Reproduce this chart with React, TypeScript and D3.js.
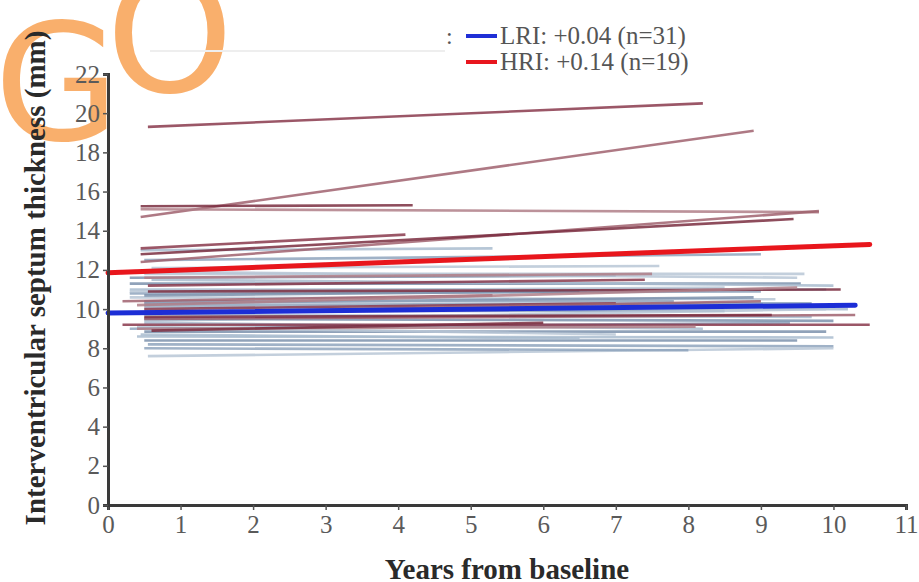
import React, { useEffect, useRef } from 'react';
import * as d3 from 'd3';

// individual patients: [startYear, startValue, endYear, endValue]
const hriLines = [
  [0.55, 19.3, 8.2, 20.5],
  [0.45, 14.7, 8.9, 19.1],
  [0.45, 15.25, 4.2, 15.3],
  [0.45, 15.1, 9.8, 14.95],
  [0.45, 13.1, 4.1, 13.8],
  [0.45, 12.4, 9.8, 15.0],
  [0.45, 12.8, 9.45, 14.6],
  [0.5, 11.6, 7.5, 11.8],
  [0.55, 11.2, 7.4, 11.5],
  [0.2, 10.4, 5.3, 10.7],
  [0.55, 10.9, 10.1, 11.0],
  [0.4, 10.2, 9.5, 11.1],
  [0.2, 9.2, 10.5, 9.2],
  [0.5, 9.5, 10.3, 9.7],
  [0.5, 9.6, 9.15, 9.7],
  [0.4, 9.0, 8.1, 9.1],
  [0.5, 10.0, 7.0, 10.3],
  [0.5, 9.8, 9.0, 10.4],
  [0.6, 8.9, 6.0, 9.3],
];

const lriLines = [
  [0.45, 13.0, 5.3, 13.1],
  [0.5, 12.5, 9.0, 12.8],
  [0.5, 11.8, 9.6, 11.8],
  [0.3, 11.3, 9.55, 11.3],
  [0.3, 11.0, 9.9, 11.0],
  [0.3, 10.8, 9.0, 10.9],
  [0.3, 10.6, 9.2, 10.5],
  [0.5, 10.3, 8.9, 10.6],
  [0.5, 10.1, 10.2, 10.0],
  [0.5, 9.9, 8.5, 9.9],
  [0.5, 9.4, 9.9, 10.0],
  [0.5, 8.85, 9.9, 8.85],
  [0.4, 8.6, 10.0, 8.55],
  [0.55, 8.2, 10.0, 8.1],
  [0.55, 7.6, 10.0, 8.0],
  [0.3, 11.6, 7.0, 11.7],
  [0.6, 11.5, 10.0, 11.2],
  [0.5, 10.4, 7.8, 10.4],
  [0.4, 9.1, 7.0, 8.7],
  [0.5, 8.4, 9.5, 8.4],
  [0.5, 9.3, 8.2, 9.0],
  [0.3, 9.0, 9.4, 9.3],
  [0.5, 11.9, 9.5, 11.6],
  [0.5, 10.7, 6.5, 10.9],
  [0.5, 9.7, 9.7, 9.6],
  [0.5, 8.0, 8.0, 7.9],
  [0.3, 10.9, 8.5, 11.1],
  [0.5, 9.5, 10.0, 9.4],
  [0.45, 8.7, 6.5, 8.5],
  [0.5, 10.2, 9.7, 10.3],
  [0.6, 12.1, 7.6, 12.2],
];

// group mean trajectories
const lriMean = [0, 9.8, 10.3, 10.2];
const hriMean = [0, 11.85, 10.5, 13.3];

const xTicks = [0, 1, 2, 3, 4, 5, 6, 7, 8, 9, 10, 11];
const yTicks = [0, 2, 4, 6, 8, 10, 12, 14, 16, 18, 20, 22];

const legendItems = [
  { label: 'LRI: +0.04 (n=31)', color: '#1f2fd6' },
  { label: 'HRI: +0.14 (n=19)', color: '#e8161e' },
];

const App = () => {
  const ref = useRef<SVGSVGElement>(null);

  useEffect(() => {
    const svg = d3.select(ref.current);
    svg.selectAll('*').remove();

    const margin = { top: 74, left: 108 };
    const width = 798;
    const height = 431;
    const serif = '"Liberation Serif", "Times New Roman", serif';

    const x = d3.scaleLinear().domain([0, 11]).range([0, width]);
    const y = d3.scaleLinear().domain([0, 22]).range([height, 0]);

    // soft edges like the scanned figure
    svg.append('defs').append('filter')
      .attr('id', 'soft')
      .append('feGaussianBlur')
      .attr('stdDeviation', 0.7);

    // orange watermark, sits under the chart ink
    const wm = svg.append('g').attr('fill', '#f8a65c').attr('fill-opacity', 0.9)
      .style('font-family', '"DejaVu Sans", sans-serif')
      .style('font-size', '162px');
    wm.append('text').attr('x', -6).attr('y', 140).text('G');
    wm.append('text').attr('x', 106).attr('y', 92).text('O');

    const g = svg.append('g').attr('transform', `translate(${margin.left},${margin.top})`);
    const lines = g.append('g').attr('filter', 'url(#soft)');

    // patient lines
    const lriColors = ['#a9bccf', '#8fa4bd', '#b8c7d6', '#7d92ad'];
    const hriColors = ['#8a3a4e', '#a0616f', '#7a2d40', '#b07f88'];

    lines.selectAll('line.lri')
      .data(lriLines)
      .enter()
      .append('line')
      .attr('class', 'lri')
      .attr('x1', d => x(d[0]))
      .attr('y1', d => y(d[1]))
      .attr('x2', d => x(d[2]))
      .attr('y2', d => y(d[3]))
      .attr('stroke', (d, i) => lriColors[i % lriColors.length])
      .attr('stroke-width', 2.6)
      .attr('stroke-opacity', 0.85);

    lines.selectAll('line.hri')
      .data(hriLines)
      .enter()
      .append('line')
      .attr('class', 'hri')
      .attr('x1', d => x(d[0]))
      .attr('y1', d => y(d[1]))
      .attr('x2', d => x(d[2]))
      .attr('y2', d => y(d[3]))
      .attr('stroke', (d, i) => hriColors[i % hriColors.length])
      .attr('stroke-width', 2.6)
      .attr('stroke-opacity', 0.85);

    // mean lines
    [
      { d: hriMean, color: '#e8161e' },
      { d: lriMean, color: '#1f2fd6' },
    ].forEach(m => {
      lines.append('line')
        .attr('x1', x(m.d[0]))
        .attr('y1', y(m.d[1]))
        .attr('x2', x(m.d[2]))
        .attr('y2', y(m.d[3]))
        .attr('stroke', m.color)
        .attr('stroke-width', 5)
        .attr('stroke-linecap', 'round');
    });

    // axes
    const xAxis = g.append('g')
      .attr('transform', `translate(0,${height})`)
      .call(d3.axisBottom(x).tickValues(xTicks).tickSize(5).tickPadding(5).tickFormat(d3.format('d')));
    const yAxis = g.append('g')
      .call(d3.axisLeft(y).tickValues(yTicks).tickSize(5).tickPadding(3).tickFormat(d3.format('d')));

    [xAxis, yAxis].forEach(a => {
      a.attr('font-family', null).attr('font-size', null);
      a.select('.domain').attr('stroke', '#3a3a3a').attr('stroke-width', 3);
      a.selectAll('.tick line').attr('stroke', '#555').attr('stroke-width', 1.5);
      a.selectAll('.tick text')
        .attr('fill', '#5a5a5a')
        .style('font-family', serif)
        .style('font-size', '25px');
    });

    // axis titles
    svg.append('text')
      .attr('x', 507)
      .attr('y', 579)
      .attr('text-anchor', 'middle')
      .style('font-family', serif)
      .style('font-size', '29px')
      .style('font-weight', 'bold')
      .attr('fill', '#2a2a2a')
      .text('Years from baseline');

    svg.append('text')
      .attr('transform', 'translate(45,278) rotate(-90)')
      .attr('text-anchor', 'middle')
      .style('font-family', serif)
      .style('font-size', '29px')
      .style('font-weight', 'bold')
      .attr('fill', '#2a2a2a')
      .text('Interventricular septum thickness (mm)');

    // legend
    svg.append('text')
      .attr('x', 446)
      .attr('y', 44)
      .style('font-family', serif)
      .style('font-size', '24px')
      .attr('fill', '#555')
      .text(':');
    svg.append('line')
      .attr('x1', 150).attr('x2', 445)
      .attr('y1', 51).attr('y2', 51)
      .attr('stroke', '#eeeeee').attr('stroke-width', 2);

    const legend = svg.append('g').attr('transform', 'translate(466,36)');
    legend.selectAll('g')
      .data(legendItems)
      .enter()
      .append('g')
      .attr('transform', (d, i) => `translate(0,${i * 26})`)
      .each(function (d) {
        const item = d3.select(this);
        item.append('line')
          .attr('x1', 0).attr('x2', 31)
          .attr('y1', 0).attr('y2', 0)
          .attr('stroke', d.color)
          .attr('stroke-width', 4);
        item.append('text')
          .attr('x', 34)
          .attr('y', 8)
          .style('font-family', serif)
          .style('font-size', '25px')
          .attr('fill', '#555')
          .text(d.label);
      });
  }, []);

  return (
    <svg
      ref={ref}
      width={919}
      height={582}
      style={{ display: 'block', position: 'absolute', left: 0, top: 0 }}
    ></svg>
  );
};

export default App;
